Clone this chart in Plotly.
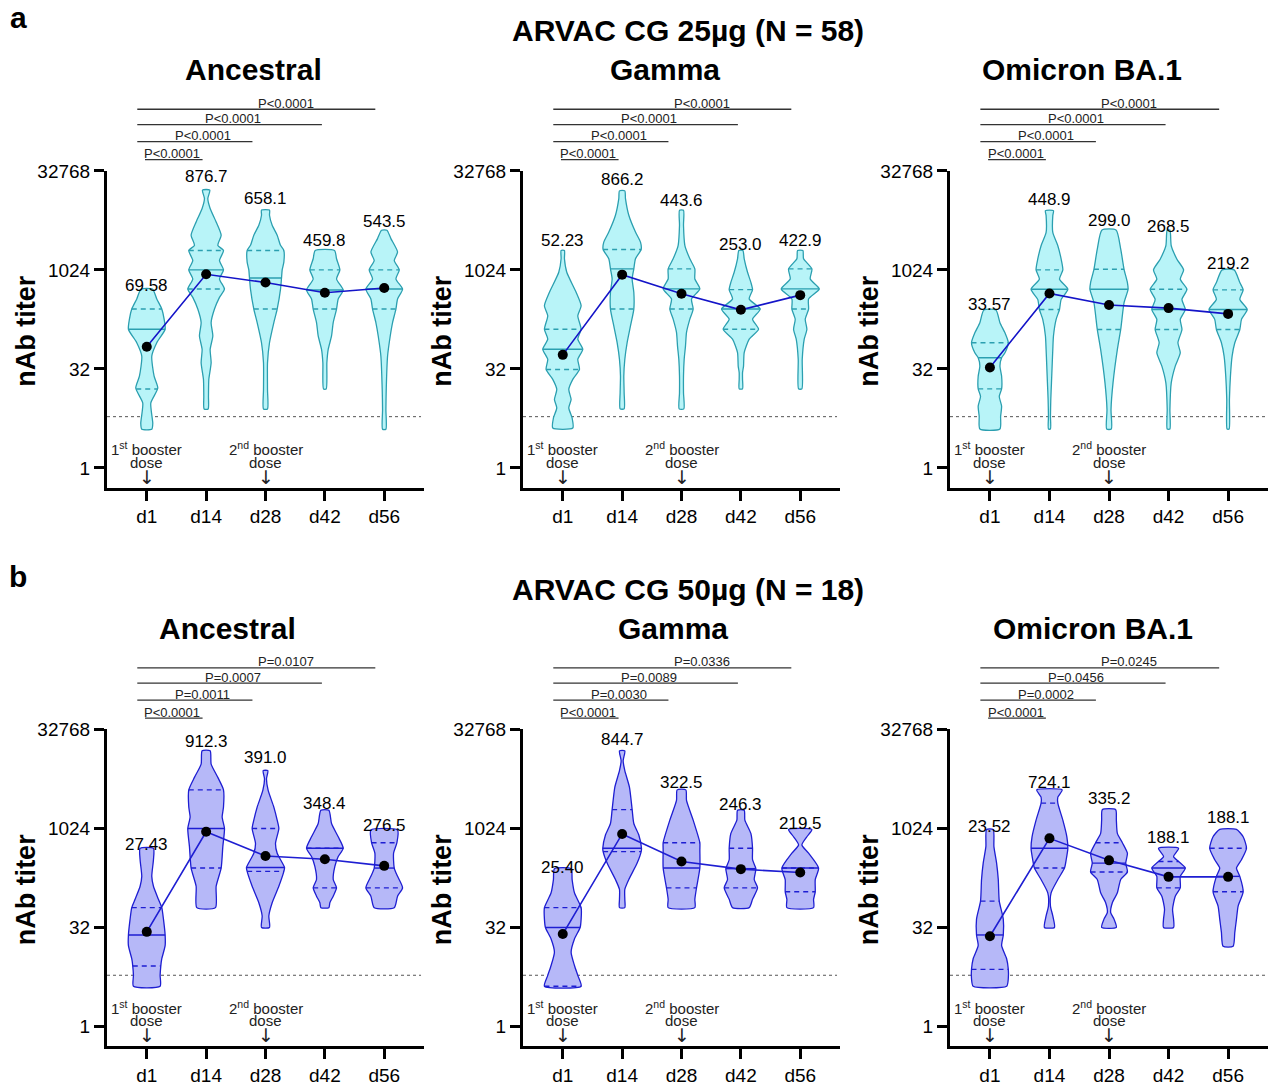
import numpy as np
import plotly.graph_objects as go

# ---------------- data ----------------
DAYS = ["d1", "d14", "d28", "d42", "d56"]
Y_TICKS = [1, 32, 1024, 32768]
LOD = 6

# violin profiles: knots in log2(titer) and relative density width per day
ANC25_LEVELS = [
    [1.95, 2.25, 3.27, 4.03, 4.63, 5.64, 6.32, 7.0, 7.51, 8.02, 8.53, 9.03],
    [2.97, 3.61, 4.46, 5.31, 5.98, 6.66, 7.34, 8.02, 8.61, 9.03, 9.54, 10.0, 10.47, 10.98, 11.24, 11.75, 12.42, 13.1, 13.6, 14.03],
    [2.97, 3.95, 5.31, 6.32, 7.34, 8.02, 9.03, 9.59, 10.0, 10.39, 10.98, 11.24, 11.75, 12.25, 12.76, 13.02],
    [3.98, 5.31, 5.98, 6.66, 7.34, 8.02, 8.53, 8.98, 9.54, 10.0, 10.56, 10.98],
    [1.95, 2.93, 3.95, 5.64, 6.66, 7.34, 8.02, 8.53, 9.03, 9.54, 10.0, 10.47, 10.9, 11.58, 12.0],
]
ANC25_DENS = [
    [15, 18, 12, 33, 22, 15, 30, 55, 52, 45, 30, 17],
    [6, 7, 8, 15, 12, 20, 15, 25, 40, 55, 40, 52, 40, 52, 35, 45, 30, 12, 5, 11],
    [6, 6, 6, 12, 25, 35, 45, 48, 50, 55, 55, 45, 35, 20, 12, 12],
    [4, 6, 10, 20, 25, 35, 40, 55, 35, 45, 35, 29],
    [5, 5, 6, 10, 18, 25, 35, 40, 55, 35, 45, 30, 40, 20, 8],
]
ANC25_MED = [7.0, 10.0, 9.59, 8.98, 9.03]
ANC25_Q1 = [3.98, 9.03, 8.02, 8.02, 8.02]
ANC25_Q3 = [8.02, 10.98, 10.98, 10.0, 10.0]
ANC25_GMT = [69.58, 876.7, 658.1, 459.8, 543.5]
ANC25_P = ["P<0.0001", "P<0.0001", "P<0.0001", "P<0.0001"]

GAM25_LEVELS = [
    [2.01, 2.52, 3.03, 3.45, 3.96, 4.47, 4.97, 5.48, 5.99, 6.5, 7.0, 7.68, 8.19, 8.87, 9.88, 10.56, 10.98],
    [2.98, 3.79, 4.64, 5.48, 6.33, 7.17, 8.02, 8.87, 9.54, 10.05, 10.56, 11.03, 11.4, 11.91, 12.76, 13.6, 13.99],
    [2.98, 3.79, 4.64, 5.48, 6.16, 6.84, 7.51, 8.02, 8.53, 9.04, 9.54, 10.05, 10.56, 11.24, 12.25, 13.01],
    [3.99, 4.47, 4.81, 5.14, 5.82, 6.5, 7.0, 7.51, 8.02, 8.53, 9.0, 9.37, 9.88, 10.56, 10.98],
    [3.99, 5.48, 6.5, 7.0, 7.51, 8.02, 8.53, 9.04, 9.54, 10.05, 10.56, 10.98],
]
GAM25_DENS = [
    [30, 28, 18, 25, 18, 30, 50, 45, 60, 45, 55, 45, 55, 40, 12, 5, 5],
    [6, 6, 5, 8, 15, 25, 35, 35, 30, 35, 40, 57, 55, 40, 20, 10, 8],
    [7, 6, 6, 8, 12, 15, 25, 35, 30, 55, 40, 40, 25, 10, 6, 6],
    [5, 5, 5, 8, 10, 25, 53, 35, 58, 25, 35, 30, 20, 10, 6],
    [5, 6, 12, 20, 15, 25, 25, 57, 30, 35, 10, 8],
]
GAM25_MED = [5.99, 10.05, 9.04, 8.02, 9.04]
GAM25_Q1 = [4.97, 8.02, 8.02, 7.0, 8.02]
GAM25_Q3 = [7.0, 11.03, 10.05, 9.0, 10.05]
GAM25_GMT = [52.23, 866.2, 443.6, 253.0, 422.9]
GAM25_P = ["P<0.0001", "P<0.0001", "P<0.0001", "P<0.0001"]

OMI25_LEVELS = [
    [1.96, 2.6, 3.11, 3.61, 3.99, 4.63, 5.14, 5.56, 5.81, 6.32, 6.82, 7.33, 7.97],
    [1.96, 2.6, 3.45, 4.29, 5.14, 5.98, 6.66, 7.5, 8.0, 8.51, 9.02, 9.53, 10.0, 10.54, 11.22, 11.89, 12.74, 12.99],
    [1.96, 2.94, 4.29, 5.98, 6.99, 8.34, 9.02, 9.36, 10.03, 11.05, 12.01],
    [1.96, 2.94, 4.29, 5.14, 5.81, 6.32, 6.99, 7.5, 8.0, 8.51, 9.02, 9.53, 10.0, 10.54, 11.22, 12.01],
    [1.96, 3.45, 4.63, 5.64, 6.32, 6.99, 7.5, 8.0, 8.51, 8.99, 9.36, 10.0],
]
OMI25_DENS = [
    [30, 32, 35, 28, 35, 35, 30, 35, 45, 55, 45, 30, 18],
    [3, 3, 4, 6, 8, 10, 12, 20, 30, 35, 55, 30, 40, 35, 25, 10, 10, 12],
    [7, 6, 12, 25, 35, 45, 57, 55, 45, 35, 21],
    [4, 4, 8, 20, 35, 28, 40, 35, 50, 40, 55, 35, 45, 25, 8, 4],
    [3, 4, 7, 12, 20, 35, 40, 57, 35, 45, 35, 18],
]
OMI25_MED = [5.56, 9.02, 9.02, 8.0, 8.0]
OMI25_Q1 = [3.99, 8.0, 6.99, 6.99, 6.99]
OMI25_Q3 = [6.32, 10.0, 10.03, 9.02, 8.99]
OMI25_GMT = [33.57, 448.9, 299.0, 268.5, 219.2]
OMI25_P = ["P<0.0001", "P<0.0001", "P<0.0001", "P<0.0001"]

ANC50_LEVELS = [
    [2.03, 2.58, 3.05, 3.42, 4.08, 4.62, 5.42, 6.0, 6.42, 7.08, 7.58, 8.42, 9.0],
    [6.0, 7.08, 8.0, 9.08, 10.0, 10.58, 11.08, 11.95, 12.58, 13.25, 13.92],
    [5.0, 5.58, 6.25, 7.08, 7.83, 8.03, 8.75, 9.25, 10.0, 10.42, 11.08, 11.92, 12.5, 12.92],
    [6.0, 6.25, 6.58, 7.0, 7.42, 8.08, 8.58, 9.0, 9.58, 10.25, 10.92],
    [6.0, 6.58, 7.0, 7.58, 8.0, 8.75, 9.28, 9.92],
]
ANC50_DENS = [
    [40, 40, 42, 45, 55, 55, 50, 45, 35, 20, 15, 20, 20],
    [28, 30, 45, 50, 55, 48, 52, 52, 35, 15, 12],
    [12, 10, 20, 40, 55, 57, 35, 30, 40, 35, 25, 8, 3, 7],
    [12, 15, 25, 35, 25, 30, 40, 55, 40, 20, 12],
    [30, 40, 55, 40, 30, 28, 38, 40],
]
ANC50_MED = [4.62, 10.0, 8.03, 9.0, 8.0]
ANC50_Q1 = [3.05, 8.0, 7.83, 7.0, 7.0]
ANC50_Q3 = [6.0, 11.95, 10.0, 9.0, 9.28]
ANC50_GMT = [27.43, 912.3, 391.0, 348.4, 276.5]
ANC50_P = ["P=0.0107", "P=0.0007", "P=0.0011", "P<0.0001"]

GAM50_LEVELS = [
    [2.03, 2.58, 3.08, 3.75, 4.42, 5.0, 5.42, 6.0, 6.75, 7.42, 7.97],
    [6.0, 6.42, 6.92, 7.42, 8.25, 8.83, 9.0, 9.67, 10.25, 10.95, 12.08, 12.92, 13.42, 13.92],
    [6.0, 6.42, 7.0, 8.0, 8.92, 9.28, 10.42, 11.42, 11.95],
    [6.0, 6.42, 7.0, 7.42, 7.97, 8.42, 9.0, 9.75, 10.42, 10.92],
    [6.0, 6.42, 6.8, 7.42, 8.0, 8.75, 9.17, 9.58, 9.95],
]
GAM50_DENS = [
    [55, 45, 35, 25, 35, 52, 55, 55, 35, 28, 25],
    [8, 8, 8, 20, 45, 57, 58, 50, 35, 30, 22, 8, 3, 8],
    [40, 40, 45, 55, 55, 55, 35, 15, 13],
    [25, 35, 50, 40, 45, 35, 35, 30, 12, 10],
    [40, 40, 45, 45, 55, 25, 5, 20, 35],
]
GAM50_MED = [5.0, 9.0, 8.0, 7.97, 8.0]
GAM50_Q1 = [2.03, 8.83, 7.0, 7.0, 6.8]
GAM50_Q3 = [6.0, 10.95, 9.28, 9.0, 8.0]
GAM50_GMT = [25.40, 844.7, 322.5, 246.3, 219.5]
GAM50_P = ["P=0.0336", "P=0.0089", "P=0.0030", "P<0.0001"]

OMI50_LEVELS = [
    [2.03, 2.42, 2.88, 3.42, 4.08, 4.62, 5.42, 6.33, 7.42, 8.25, 9.08, 9.95],
    [5.0, 5.58, 6.08, 6.75, 7.42, 8.0, 8.42, 9.0, 9.58, 10.42, 11.28, 11.58, 11.95],
    [5.0, 5.42, 5.75, 6.25, 6.75, 7.42, 7.8, 8.25, 8.75, 9.28, 9.75, 10.42, 10.95],
    [5.0, 5.42, 5.92, 6.58, 7.0, 7.58, 8.0, 8.33, 8.58, 9.0],
    [4.05, 4.75, 5.42, 6.08, 6.8, 7.58, 8.0, 8.42, 9.0, 9.58, 9.95],
]
OMI50_DENS = [
    [50, 55, 55, 50, 35, 40, 40, 28, 25, 20, 12, 10],
    [15, 10, 3, 5, 25, 45, 50, 55, 52, 40, 25, 25, 38],
    [22, 15, 5, 10, 25, 35, 55, 50, 55, 40, 25, 22, 20],
    [15, 15, 12, 20, 35, 35, 50, 30, 15, 30],
    [15, 20, 25, 30, 45, 35, 25, 40, 55, 45, 25],
]
OMI50_MED = [4.62, 9.0, 8.25, 8.0, 7.58]
OMI50_Q1 = [2.88, 8.0, 7.8, 7.0, 6.8]
OMI50_Q3 = [6.33, 11.28, 9.28, 8.33, 9.0]
OMI50_GMT = [23.52, 724.1, 335.2, 188.1, 188.1]
OMI50_P = ["P=0.0245", "P=0.0456", "P=0.0002", "P<0.0001"]

ROW_TITLES = ["ARVAC CG 25µg (N = 58)", "ARVAC CG 50µg (N = 18)"]
PANEL_TITLES = ["Ancestral", "Gamma", "Omicron BA.1"]

# ---------------- layout helpers ----------------
W, H = 1272, 1086
FONT = "Liberation Sans, Arial, sans-serif"
WSCALE = 1.0 / (3 * 59.3)  # density units -> category units
X_DOM_PX = [(107, 424), (523, 840), (950, 1268)]
ROW_TOP_PX = [171, 730]
ROW_H_PX = 317
ROW_OFF = [0, 559]
# vertical calibration of the rendered page (screen y = Y0 + YS * figure y)
Y0, YS = 10.0, 0.9906

STYLE = [
    dict(fill="rgba(184,244,248,1)", edge="#2b9fb0", gline="#1414c8"),
    dict(fill="rgba(182,184,248,1)", edge="#1e1ed2", gline="#1e1ed2"),
]

LABEL_DY = [
    [4, 14, 12, 10, 9], [10, 11, 10, 6, 10], [6, 11, 10, 4, 6],
    [4, 9, 13, 7, 5], [1, 11, 7, 6, 6], [3, 7, 11, 11, 12],
]
TITLE_X = [[253, 665, 1082], [228, 673, 1093]]


def px(x):
    return x / W


def py(y):
    return 1 - ((y - Y0) / YS) / H


panels = [
    (ANC25_LEVELS, ANC25_DENS, ANC25_MED, ANC25_Q1, ANC25_Q3, ANC25_GMT, ANC25_P),
    (GAM25_LEVELS, GAM25_DENS, GAM25_MED, GAM25_Q1, GAM25_Q3, GAM25_GMT, GAM25_P),
    (OMI25_LEVELS, OMI25_DENS, OMI25_MED, OMI25_Q1, OMI25_Q3, OMI25_GMT, OMI25_P),
    (ANC50_LEVELS, ANC50_DENS, ANC50_MED, ANC50_Q1, ANC50_Q3, ANC50_GMT, ANC50_P),
    (GAM50_LEVELS, GAM50_DENS, GAM50_MED, GAM50_Q1, GAM50_Q3, GAM50_GMT, GAM50_P),
    (OMI50_LEVELS, OMI50_DENS, OMI50_MED, OMI50_Q1, OMI50_Q3, OMI50_GMT, OMI50_P),
]

fig = go.Figure()
annotations = []
shapes = []
layout_axes = {}
XR = [-0.67, 4.67]

for k, (levels, dens, med, q1, q3, gmt, pvals) in enumerate(panels):
    row, col = divmod(k, 3)
    st = STYLE[row]
    ax = "" if k == 0 else str(k + 1)
    xref, yref = "x" + ax, "y" + ax
    x0p, x1p = X_DOM_PX[col]
    top = ROW_TOP_PX[row]
    layout_axes["xaxis" + ax] = dict(
        domain=[px(x0p), px(x1p)], anchor=yref, range=XR,
        tickvals=list(range(len(DAYS))), ticktext=DAYS,
        showline=True, linewidth=3, linecolor="black", ticks="outside",
        ticklen=10, tickwidth=3, tickcolor="black", showgrid=False, zeroline=False,
        tickfont=dict(size=19, color="black", family=FONT),
    )
    layout_axes["yaxis" + ax] = dict(
        domain=[py(top + ROW_H_PX), py(top)], anchor=xref, type="log",
        range=[np.log10(0.5), np.log10(32768)],
        tickvals=Y_TICKS, ticktext=[str(v) for v in Y_TICKS],
        showline=True, linewidth=3, linecolor="black", ticks="outside",
        ticklen=10, tickwidth=3, tickcolor="black", showgrid=False, zeroline=False,
        tickfont=dict(size=19, color="black", family=FONT),
    )
    # LOD dotted line
    fig.add_trace(go.Scatter(x=[XR[0], 4.62], y=[LOD, LOD], mode="lines",
                             line=dict(color="#555", width=1, dash="dot"),
                             xaxis=xref, yaxis=yref, hoverinfo="skip", showlegend=False))
    # violins
    for i in range(len(DAYS)):
        lv = np.array(levels[i], dtype=float)
        w = np.array(dens[i], dtype=float) * WSCALE
        xs = np.concatenate([i + w, (i - w)[::-1], [i + w[0]]])
        ys = 2.0 ** np.concatenate([lv, lv[::-1], [lv[0]]])
        fig.add_trace(go.Scatter(x=xs, y=ys, mode="lines", fill="toself",
                                 fillcolor=st["fill"],
                                 line=dict(color=st["edge"], width=1.3, shape="spline", smoothing=0.6),
                                 xaxis=xref, yaxis=yref, hoverinfo="skip", showlegend=False))
        for val, dash in ((med[i], "solid"), (q1[i], "5px,4px"), (q3[i], "5px,4px")):
            hw = np.interp(val, lv, w)
            fig.add_trace(go.Scatter(x=[i - hw, i + hw], y=[2.0 ** val] * 2, mode="lines",
                                     line=dict(color=st["edge"], width=1.4, dash=dash),
                                     xaxis=xref, yaxis=yref, hoverinfo="skip", showlegend=False))
        annotations.append(dict(
            x=i, y=float(lv[-1] * np.log10(2)), xref=xref, yref=yref,
            text=f"{gmt[i]:#.4g}", showarrow=False, yanchor="middle", yshift=LABEL_DY[k][i],
            font=dict(size=17, color="black", family=FONT)))
    # GMT line + dots
    fig.add_trace(go.Scatter(x=list(range(len(DAYS))), y=gmt, mode="lines+markers",
                             line=dict(color=st["gline"], width=1.6),
                             marker=dict(color="black", size=10),
                             xaxis=xref, yaxis=yref, hoverinfo="skip", showlegend=False,
                             cliponaxis=False))
    # significance brackets (d1 vs d56, d42, d28, d14)
    off = ROW_OFF[row]
    br_y = [109.3, 124.7, 141.7, 159.7]
    br_x0 = [-0.16, -0.16, -0.16, -0.03]
    br_x1 = [3.85, 2.95, 1.78, 0.94]
    txt_x = [2.34, 1.45, 0.94, 0.43]
    for j in range(4):
        yy = py(br_y[j] + off)
        shapes.append(dict(type="line", xref=xref, yref="paper", x0=br_x0[j], x1=br_x1[j],
                           y0=yy, y1=yy, line=dict(color="#333", width=1.3)))
        annotations.append(dict(x=txt_x[j], y=py(br_y[j] + off - 6), xref=xref, yref="paper",
                                text=pvals[j], showarrow=False, yanchor="middle",
                                font=dict(size=13, color="#222", family=FONT)))
    # booster annotations
    for ci, lab in ((0, "1<sup>st</sup> booster"), (2, "2<sup>nd</sup> booster")):
        annotations.append(dict(x=ci, y=py(449 + off), xref=xref, yref="paper", text=lab,
                                showarrow=False, yanchor="middle",
                                font=dict(size=15, color="#222", family=FONT)))
        annotations.append(dict(x=ci, y=py(462.5 + off), xref=xref, yref="paper", text="dose",
                                showarrow=False, yanchor="middle",
                                font=dict(size=15, color="#222", family=FONT)))
        annotations.append(dict(x=ci, y=py(477 + off), xref=xref, yref="paper", text="↓",
                                showarrow=False, yanchor="middle",
                                font=dict(size=19, color="#222", family="DejaVu Sans")))
    # y-axis title
    annotations.append(dict(x=px(x0p - 81), y=py(top + 161), xref="paper", yref="paper",
                            text="<b>nAb titer</b>", textangle=-90, showarrow=False,
                            xanchor="center", yanchor="middle",
                            font=dict(size=27, color="black", family=FONT)))
    # panel title
    annotations.append(dict(x=px(TITLE_X[row][col]), y=py(70 + ROW_OFF[row]), xref="paper", yref="paper",
                            text="<b>" + PANEL_TITLES[col] + "</b>", showarrow=False,
                            xanchor="center", yanchor="middle",
                            font=dict(size=30, color="black", family=FONT)))

for r in range(2):
    annotations.append(dict(x=px(688), y=py(31 + ROW_OFF[r]), xref="paper", yref="paper",
                            text="<b>" + ROW_TITLES[r] + "</b>", showarrow=False,
                            xanchor="center", yanchor="middle",
                            font=dict(size=30, color="black", family=FONT)))
    annotations.append(dict(x=px(18), y=py(18 + ROW_OFF[r]), xref="paper", yref="paper",
                            text="<b>" + "ab"[r] + "</b>", showarrow=False,
                            xanchor="center", yanchor="middle",
                            font=dict(size=30, color="black", family=FONT)))

fig.update_layout(width=W, height=H, margin=dict(l=0, r=0, t=0, b=0),
                  paper_bgcolor="white", plot_bgcolor="white",
                  annotations=annotations, shapes=shapes, showlegend=False,
                  **layout_axes)

PAGE_FIX = (
    "document.documentElement.style.margin='0';"
    "document.body.style.margin='0';"
    "document.documentElement.style.overflow='hidden';"
    "document.body.style.overflow='hidden';"
    "var gd=document.getElementById('{plot_id}');"
    "gd.style.position='absolute';gd.style.left='0px';gd.style.top='0px';"
)
fig.write_html("out.html", config={"displayModeBar": False}, post_script=PAGE_FIX)
